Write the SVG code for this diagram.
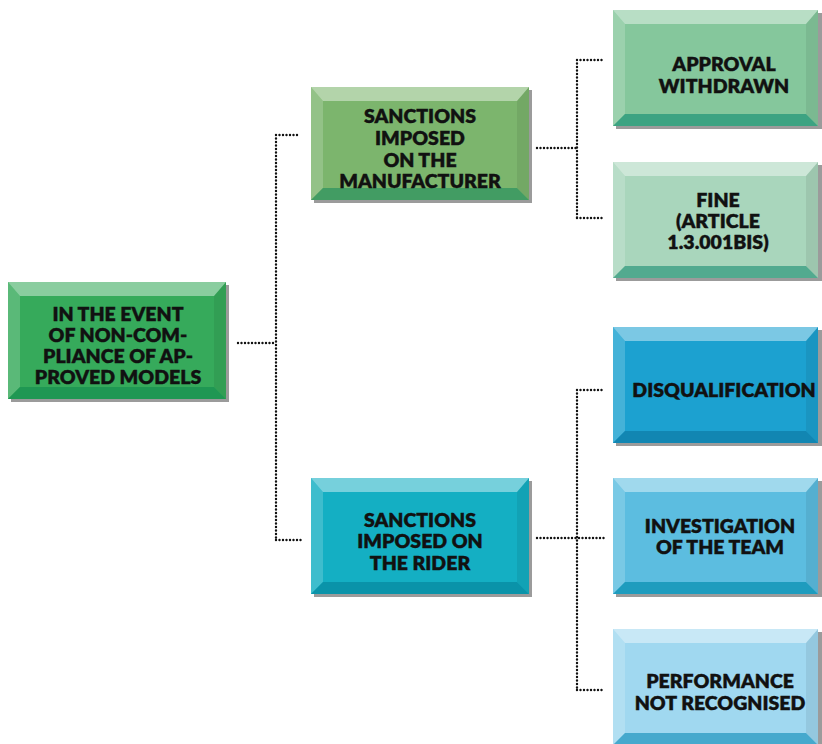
<svg xmlns="http://www.w3.org/2000/svg" width="822" height="744" viewBox="0 0 822 744">
<style>
text{font-family:"Lato","Open Sans","Liberation Sans",sans-serif;font-weight:800;font-size:19.5px;fill:#111;text-anchor:middle;stroke:#111;stroke-width:.35}
.sh{fill:#9b9b9b}
.hl{fill:#fff;opacity:.42}
.hl2{fill:#fff;opacity:.18}
.dk{fill:#000;opacity:.07}
.con{fill:none;stroke:#111;stroke-width:2.4;stroke-linecap:round;stroke-dasharray:0 3.5}
</style>
<rect width="822" height="744" fill="#fff"/>
<g id="connectors">
<path class="con" d="M238,343 H276 M276,135 V540 M276,135 H300 M276,540 H302"/>
<path class="con" d="M537,148 H577 M577,60 V218 M577,60 H602 M577,218 H602"/>
<path class="con" d="M537,538 H604 M577,390 V690 M577,390 H602 M577,690 H602"/>
</g>
<g id="root">
<rect class="sh" x="11" y="285" width="218" height="117"/>
<rect x="8" y="282" width="218" height="117" fill="#36aa5b"/>
<polygon class="hl" points="8,282 226,282 214,296 20,296"/>
<polygon class="hl2" points="8,282 20,296 20,387 8,399"/>
<polygon class="dk" points="226,282 226,399 214,387 214,296"/>
<polygon points="8,399 20,387 214,387 226,399" fill="#1f9753"/>
<text x="118" y="321">IN THE EVENT</text>
<text x="118" y="342">OF NON-COM-</text>
<text x="118" y="363">PLIANCE OF AP-</text>
<text x="118" y="384">PROVED MODELS</text>
</g>
<g id="manufacturer">
<rect class="sh" x="314" y="90" width="218" height="113"/>
<rect x="311" y="87" width="218" height="113" fill="#7cb56d"/>
<polygon class="hl" points="311,87 529,87 517,101 323,101"/>
<polygon class="hl2" points="311,87 323,101 323,188 311,200"/>
<polygon class="dk" points="529,87 529,200 517,188 517,101"/>
<polygon points="311,200 323,188 517,188 529,200" fill="#429c63"/>
<text x="420" y="123">SANCTIONS</text>
<text x="420" y="145">IMPOSED</text>
<text x="420" y="167">ON THE</text>
<text x="420" y="188">MANUFACTURER</text>
</g>
<g id="rider">
<rect class="sh" x="314" y="481" width="218" height="116"/>
<rect x="311" y="478" width="218" height="116" fill="#14afc3"/>
<polygon class="hl" points="311,478 529,478 517,492 323,492"/>
<polygon class="hl2" points="311,478 323,492 323,582 311,594"/>
<polygon class="dk" points="529,478 529,594 517,582 517,492"/>
<polygon points="311,594 323,582 517,582 529,594" fill="#0a93a9"/>
<text x="420" y="527">SANCTIONS</text>
<text x="420" y="548">IMPOSED ON</text>
<text x="420" y="570">THE RIDER</text>
</g>
<g id="approval">
<rect class="sh" x="616" y="13" width="206" height="116"/>
<rect x="613" y="10" width="205" height="116" fill="#85c79c"/>
<polygon class="hl" points="613,10 818,10 806,24 625,24"/>
<polygon class="hl2" points="613,10 625,24 625,114 613,126"/>
<polygon class="dk" points="818,10 818,126 806,114 806,24"/>
<polygon points="613,126 625,114 806,114 818,126" fill="#3ca382"/>
<text x="724" y="71">APPROVAL</text>
<text x="724" y="93">WITHDRAWN</text>
</g>
<g id="fine">
<rect class="sh" x="616" y="165" width="206" height="116"/>
<rect x="613" y="162" width="205" height="116" fill="#a9d6bc"/>
<polygon class="hl" points="613,162 818,162 806,176 625,176"/>
<polygon class="hl2" points="613,162 625,176 625,266 613,278"/>
<polygon class="dk" points="818,162 818,278 806,266 806,176"/>
<polygon points="613,278 625,266 806,266 818,278" fill="#52aa8f"/>
<text x="718" y="207">FINE</text>
<text x="718" y="228">(ARTICLE</text>
<text x="718" y="249">1.3.001BIS)</text>
</g>
<g id="disqualification">
<rect class="sh" x="616" y="330" width="206" height="116"/>
<rect x="613" y="327" width="205" height="116" fill="#1ca1d0"/>
<polygon class="hl" points="613,327 818,327 806,341 625,341"/>
<polygon class="hl2" points="613,327 625,341 625,431 613,443"/>
<polygon class="dk" points="818,327 818,443 806,431 806,341"/>
<polygon points="613,443 625,431 806,431 818,443" fill="#1286b2"/>
<text x="724" y="397">DISQUALIFICATION</text>
</g>
<g id="investigation">
<rect class="sh" x="616" y="481" width="206" height="116"/>
<rect x="613" y="478" width="205" height="116" fill="#5cbde0"/>
<polygon class="hl" points="613,478 818,478 806,492 625,492"/>
<polygon class="hl2" points="613,478 625,492 625,582 613,594"/>
<polygon class="dk" points="818,478 818,594 806,582 806,492"/>
<polygon points="613,594 625,582 806,582 818,594" fill="#1e9cbe"/>
<text x="720" y="533">INVESTIGATION</text>
<text x="720" y="554">OF THE TEAM</text>
</g>
<g id="performance">
<rect class="sh" x="616" y="632" width="206" height="116"/>
<rect x="613" y="629" width="205" height="116" fill="#a0d8f0"/>
<polygon class="hl" points="613,629 818,629 806,643 625,643"/>
<polygon class="hl2" points="613,629 625,643 625,733 613,745"/>
<polygon class="dk" points="818,629 818,745 806,733 806,643"/>
<polygon points="613,745 625,733 806,733 818,745" fill="#46a9cd"/>
<text x="720" y="688">PERFORMANCE</text>
<text x="720" y="710">NOT RECOGNISED</text>
</g>
</svg>
